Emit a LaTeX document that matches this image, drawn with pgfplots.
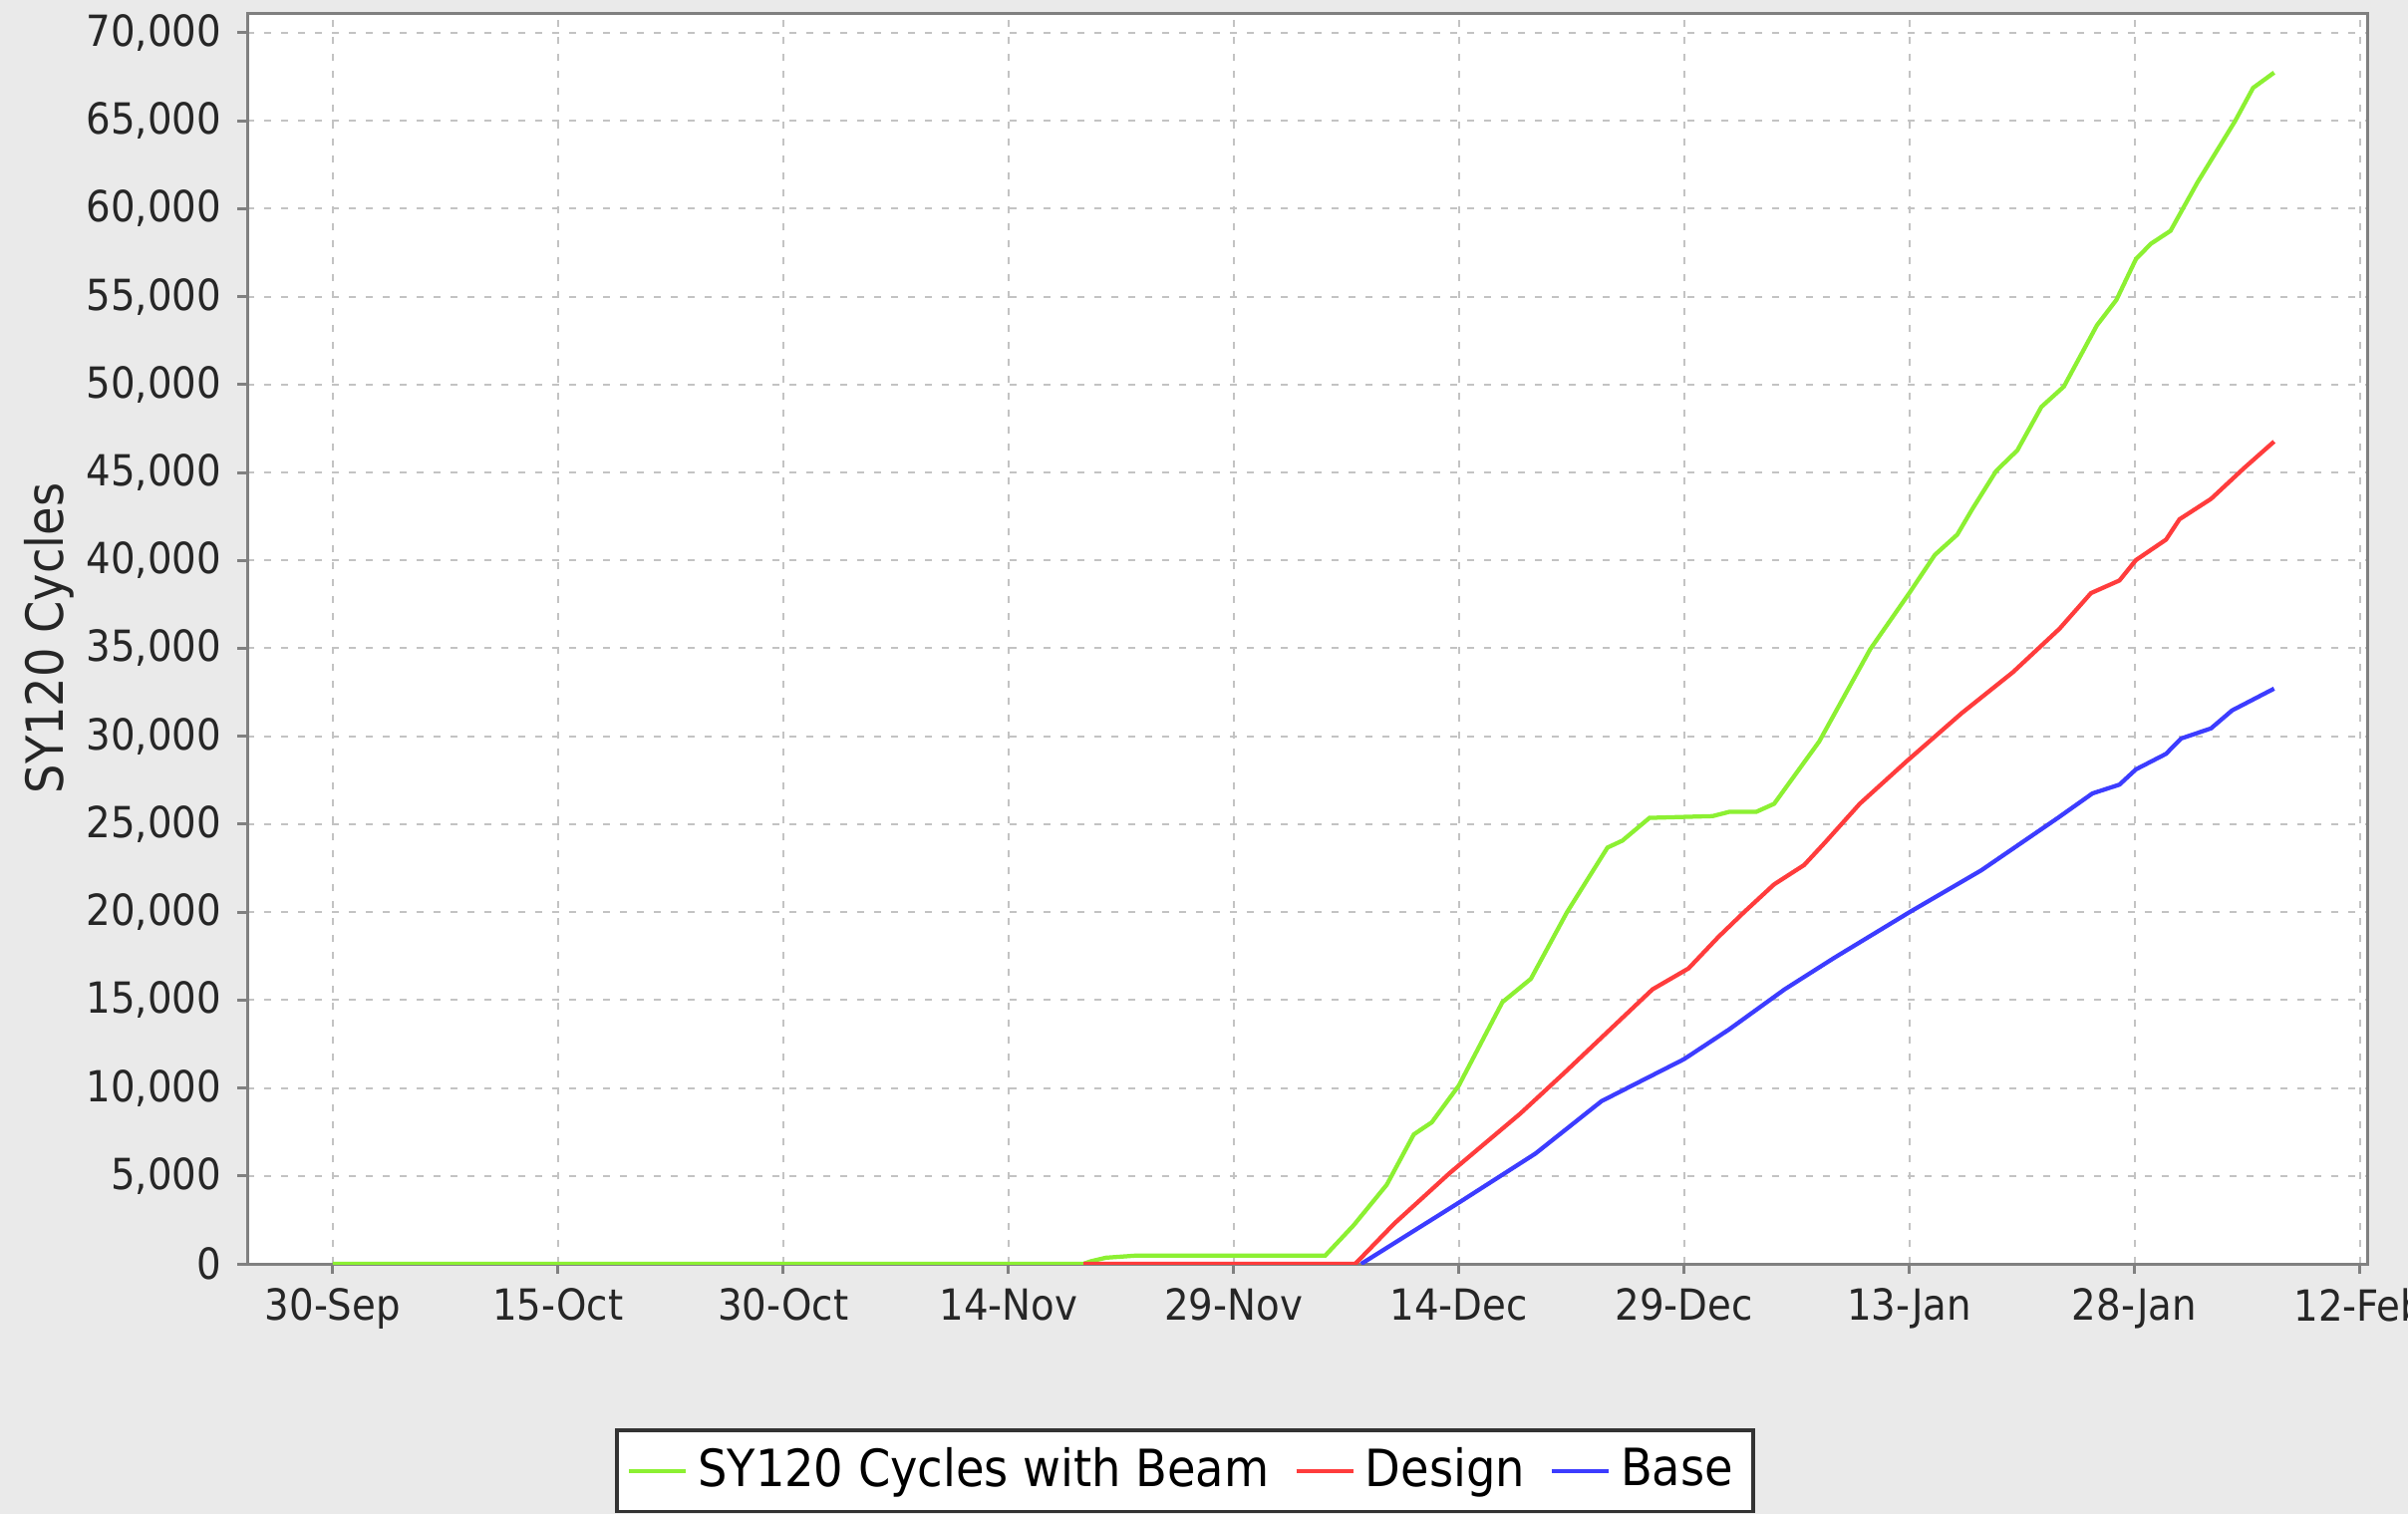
\documentclass[border=0pt]{standalone}
\usepackage{fontspec}
\setmainfont{DejaVu Sans Condensed}
\usepackage{pgfplots}
\pgfplotsset{compat=1.18}
\definecolor{bg}{RGB}{234,234,234}
\definecolor{cgreen}{RGB}{140,240,50}
\definecolor{cred}{RGB}{255,60,60}
\definecolor{cblue}{RGB}{60,60,255}
\definecolor{axgray}{RGB}{128,128,128}
\definecolor{gridgray}{RGB}{195,195,195}
\begin{document}
\begin{tikzpicture}
\fill[bg] (0,0) rectangle (483.2pt,303.8pt);
\begin{axis}[
  at={(49.6pt,50.2pt)}, anchor=south west, scale only axis,
  width=425.4pt, height=251pt,
  xmin=-5.7, xmax=135.5, ymin=0, ymax=71130,
  axis background/.style={fill=white},
  axis line style={axgray, line width=0.6pt},
  xtick={0,15,...,135},
  xticklabels={30-Sep,15-Oct,30-Oct,14-Nov,29-Nov,14-Dec,29-Dec,13-Jan,28-Jan,12-Feb},
  ytick={0,5000,...,70000},
  scaled y ticks=false,
  /pgf/number format/assume math mode=true,
  /pgf/number format/1000 sep={,},
  tick align=outside, tick pos=left,
  major tick length=2pt,
  tick style={axgray, line width=0.6pt},
  grid=major,
  major grid style={gridgray, line width=0.4pt, dash pattern=on 1.4pt off 2pt},
  ticklabel style={font=\fontsize{8.6}{10}\selectfont, text=black!85},
  yticklabel style={inner sep=0pt, xshift=-3.0pt},
  xticklabel style={inner sep=0pt, yshift=-2.8pt},
  ylabel={SY120 Cycles},
  ylabel style={font=\fontsize{10.3}{12}\selectfont, text=black!85,
    at={(axis description cs:-0.0935,0.5)}, anchor=center},
  legend style={
    at={(0.4424,-0.1315)}, anchor=north,
    draw=black!80, line width=0.7pt, fill=white,
    inner xsep=2pt, inner ysep=1.5pt,
    font=\fontsize{10.3}{12}\selectfont,
    legend columns=-1,
    /tikz/every even column/.append style={column sep=3pt},
    legend cell align=left,
  },
  legend image code/.code={\draw[#1] (0pt,0pt) -- (11.4pt,0pt);},
]
\addplot[cgreen, line width=0.85pt] coordinates {
(0,0) (50,0) (50.5,150) (51.5,350) (53.5,470) (66.1,470) (68,2200) (70.2,4500)
(72,7360) (73.2,8050) (75,10140) (77.9,14880) (79.8,16210) (82.2,19990)
(84.9,23670) (85.9,24070) (87.7,25360) (91.9,25460) (93,25700) (94.8,25700)
(96,26160) (99,29700) (102.4,34950) (105,38140) (106.7,40310) (108.2,41470)
(109.2,42920) (110.8,45100) (112.2,46260) (113.8,48730) (115.3,49890)
(117.5,53370) (118.8,54820) (120.1,57140) (121.1,58010) (122.4,58740)
(124.2,61500) (126.7,64980) (127.9,66870) (129.3,67740)
};
\addlegendentry{SY120 Cycles with Beam}
\addplot[cred, line width=0.85pt] coordinates {
(50,0) (68.1,0) (70.7,2290) (74.4,5170) (79.1,8550) (82,10840) (85.2,13430)
(87.9,15610) (90.3,16800) (92.3,18600) (94,20000) (96,21580) (98,22680)
(99.4,23970) (101.7,26160) (104.8,28560) (108.5,31320) (111.9,33640)
(115,36110) (117.1,38140) (119,38860) (120.1,40020) (122.1,41180)
(123,42340) (125.1,43500) (127.3,45250) (129.3,46760)
};
\addlegendentry{Design}
\addplot[cblue, line width=0.85pt] coordinates {
(68.5,0) (75,3480) (80.1,6270) (84.5,9250) (90,11640) (93,13330)
(96.7,15610) (100,17400) (105,19990) (109.8,22380) (114.9,25360)
(117.2,26750) (119,27250) (120.1,28120) (122.1,29000) (123.1,29870)
(125.1,30450) (126.5,31470) (129.3,32710)
};
\addlegendentry{Base}
\end{axis}
\pgfresetboundingbox
\useasboundingbox (0,0) rectangle (483.2pt,303.8pt);
\end{tikzpicture}
\end{document}
